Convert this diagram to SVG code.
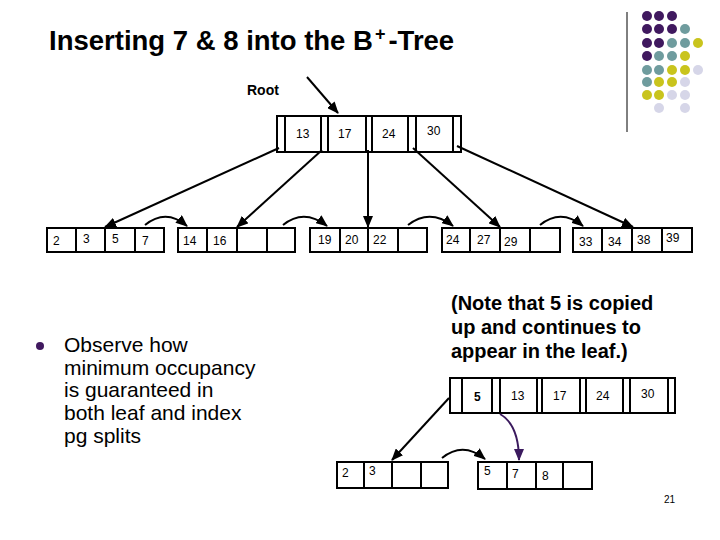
<svg xmlns="http://www.w3.org/2000/svg" width="720" height="540" viewBox="0 0 720 540">
<defs>
<marker id="ah" markerUnits="userSpaceOnUse" markerWidth="12" markerHeight="10" refX="11" refY="5" orient="auto"><path d="M0,0 L12,5 L0,10 Z" fill="#000"/></marker>
<marker id="ahp" markerUnits="userSpaceOnUse" markerWidth="12" markerHeight="10" refX="11" refY="5" orient="auto"><path d="M0,0 L12,5 L0,10 Z" fill="#3b1a5e"/></marker>
<style>
.box{fill:#fff;stroke:#000;stroke-width:2}
.sep{stroke:#000;stroke-width:2}
.k{font-family:"Liberation Sans",Arial,sans-serif;font-size:12px;fill:#000}
.ln{fill:none;stroke:#000;stroke-width:2;marker-end:url(#ah)}
.t{font-family:"Liberation Sans",Arial,sans-serif;fill:#000}
</style>
</defs>
<rect width="720" height="540" fill="#fff"/>
<text class="t" x="49" y="50" font-size="27.5" font-weight="bold">Inserting 7 &amp; 8 into the B<tspan dx="2" dy="-10" font-size="18">+</tspan><tspan dx="3" dy="10">-Tree</tspan></text>
<g id="decor">
<line x1="627" y1="12" x2="627" y2="132" stroke="#000" stroke-width="1"/>
<g fill="#40195f"><circle cx="647" cy="16" r="5"/><circle cx="659" cy="16" r="5"/><circle cx="672" cy="16" r="5"/><circle cx="647" cy="29" r="5"/><circle cx="659" cy="29" r="5"/><circle cx="672" cy="29" r="5"/><circle cx="647" cy="43" r="5"/><circle cx="659" cy="43" r="5"/><circle cx="647" cy="56" r="5"/></g>
<g fill="#6f9c9e"><circle cx="685" cy="29" r="5"/><circle cx="672" cy="43" r="5"/><circle cx="685" cy="43" r="5"/><circle cx="659" cy="56" r="5"/><circle cx="672" cy="56" r="5"/><circle cx="647" cy="70" r="5"/><circle cx="659" cy="70" r="5"/><circle cx="647" cy="82" r="5"/></g>
<g fill="#c9c41d"><circle cx="698" cy="43" r="5"/><circle cx="685" cy="56" r="5"/><circle cx="672" cy="70" r="5"/><circle cx="685" cy="70" r="5"/><circle cx="659" cy="82" r="5"/><circle cx="672" cy="82" r="5"/><circle cx="647" cy="95" r="5"/><circle cx="659" cy="95" r="5"/></g>
<g fill="#d6d6e8"><circle cx="698" cy="70" r="5"/><circle cx="685" cy="82" r="5"/><circle cx="672" cy="95" r="5"/><circle cx="685" cy="95" r="5"/><circle cx="659" cy="108" r="5"/><circle cx="685" cy="108" r="5"/></g>
</g>
<g id="root-label"><text class="t" x="247" y="95" font-size="14" font-weight="bold">Root</text></g>
<g id="root">
<rect class="box" x="277" y="116" width="184" height="36"/>
<path class="sep" d="M285,116V152M321,116V152M328,116V152M366,116V152M372,116V152M408,116V152M416,116V152M453,116V152"/>
<text class="k" x="296" y="138">13</text><text class="k" x="338" y="138">17</text><text class="k" x="382" y="138">24</text><text class="k" x="427" y="135">30</text>
</g>
<g id="leaf1">
<rect class="box" x="47" y="228" width="117" height="24"/>
<path class="sep" d="M76,228V252M105,228V252M135,228V252"/>
<text class="k" x="53" y="245">2</text><text class="k" x="83" y="243">3</text><text class="k" x="112" y="243">5</text><text class="k" x="142" y="245">7</text>
</g>
<g id="leaf2">
<rect class="box" x="178" y="228" width="117" height="24"/>
<path class="sep" d="M207,228V252M237,228V252M267,228V252"/>
<text class="k" x="183" y="245">14</text><text class="k" x="213" y="245">16</text>
</g>
<g id="leaf3">
<rect class="box" x="310" y="228" width="117" height="24"/>
<path class="sep" d="M340,228V252M368,228V252M398,228V252"/>
<text class="k" x="318" y="244">19</text><text class="k" x="345" y="244">20</text><text class="k" x="373" y="244">22</text>
</g>
<g id="leaf4">
<rect class="box" x="442" y="228" width="118" height="24"/>
<path class="sep" d="M470,228V252M500,228V252M530,228V252"/>
<text class="k" x="446" y="244">24</text><text class="k" x="477" y="244">27</text><text class="k" x="504" y="246">29</text>
</g>
<g id="leaf5">
<rect class="box" x="573" y="228" width="119" height="24"/>
<path class="sep" d="M602,228V252M632,228V252M662,228V252"/>
<text class="k" x="579" y="246">33</text><text class="k" x="608" y="246">34</text><text class="k" x="637" y="244">38</text><text class="k" x="666" y="242">39</text>
</g>
<g id="note"><text class="t" font-size="20" font-weight="bold"><tspan x="451" y="310">(Note that 5 is copied</tspan><tspan x="451" y="334">up and continues to</tspan><tspan x="451" y="358">appear in the leaf.)</tspan></text></g>
<g id="bullet">
<circle cx="40" cy="346" r="4" fill="#40195f"/>
<text class="t" font-size="21"><tspan x="64" y="352">Observe how</tspan><tspan x="64" y="375">minimum occupancy</tspan><tspan x="64" y="397">is guaranteed in</tspan><tspan x="64" y="420">both leaf and index</tspan><tspan x="64" y="443">pg splits</tspan></text>
</g>
<g id="index2">
<rect class="box" x="450" y="378" width="225" height="35"/>
<path class="sep" d="M462,378V413M492,378V413M500,378V413M537,378V413M542,378V413M580,378V413M586,378V413M623,378V413M630,378V413M668,378V413"/>
<text class="k" x="474" y="401" font-weight="bold">5</text><text class="k" x="511" y="400">13</text><text class="k" x="553" y="400">17</text><text class="k" x="596" y="400">24</text><text class="k" x="641" y="398">30</text>
</g>
<g id="leaf6">
<rect class="box" x="337" y="462" width="111" height="26"/>
<path class="sep" d="M364,462V488M392,462V488M421,462V488"/>
<text class="k" x="342" y="477">2</text><text class="k" x="369" y="475">3</text>
</g>
<g id="leaf7">
<rect class="box" x="478" y="462" width="114" height="27"/>
<path class="sep" d="M507,462V489M536,462V489M563,462V489"/>
<text class="k" x="484" y="475">5</text><text class="k" x="512" y="478">7</text><text class="k" x="542" y="480">8</text>
</g>
<g id="page"><text class="t" x="664" y="503" font-size="10">21</text></g>
<g id="connectors">
<line class="ln" x1="307" y1="77" x2="338" y2="113"/>
<line class="ln" x1="279" y1="148" x2="105" y2="227"/>
<line class="ln" x1="322" y1="150" x2="237" y2="227"/>
<line class="ln" x1="368" y1="150" x2="368" y2="227"/>
<line class="ln" x1="413" y1="148" x2="500" y2="227"/>
<line class="ln" x1="457" y1="146" x2="633" y2="227"/>
<path class="ln" d="M145,225 Q166,208 187,226"/>
<path class="ln" d="M283,225 Q304,208 327,226"/>
<path class="ln" d="M408,225 Q430,208 453,226"/>
<path class="ln" d="M540,225 Q561,208 583,226"/>
<line class="ln" x1="449" y1="398" x2="392" y2="460"/>
<path class="ln" d="M442,458 Q463,441 485,459"/>
<path d="M500,414 Q519,425 519,460" fill="none" stroke="#3b1a5e" stroke-width="2" marker-end="url(#ahp)"/>
</g>
</svg>
